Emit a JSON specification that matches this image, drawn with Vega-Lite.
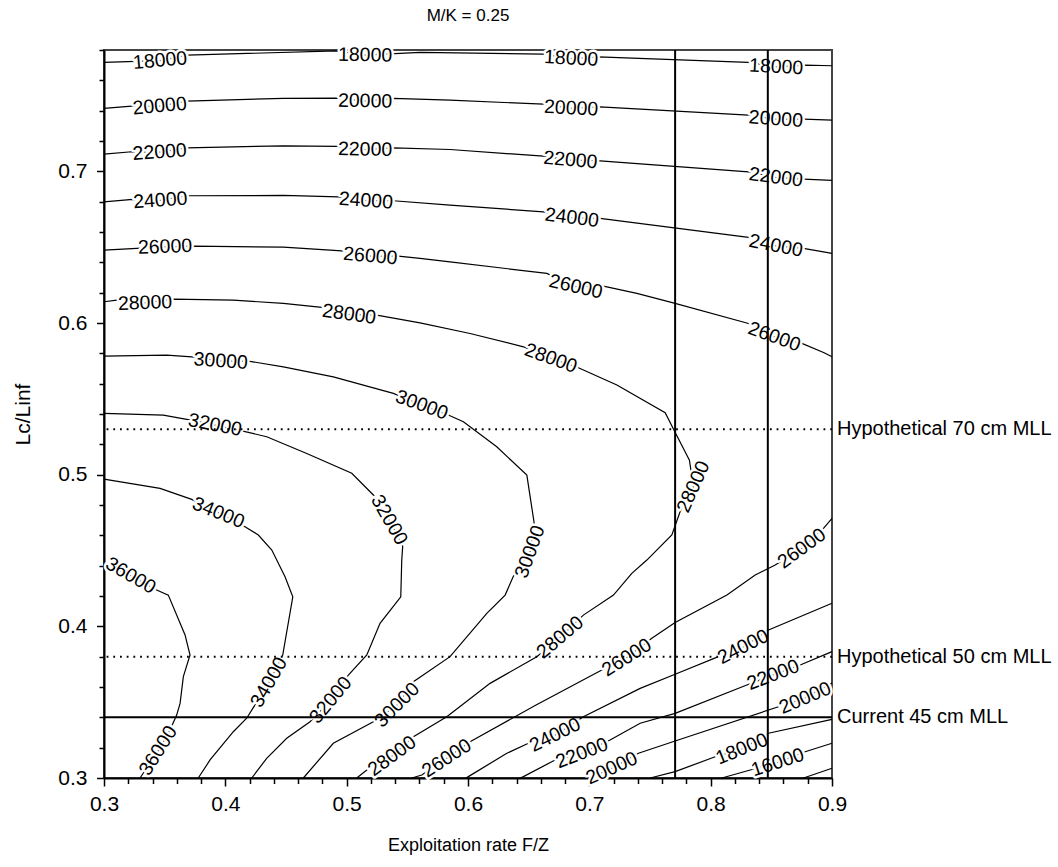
{
  "$schema": "https://vega.github.io/schema/vega-lite/v6.json",
  "width": 728,
  "height": 728,
  "autosize": {"type": "none"},
  "padding": {"left": 104, "top": 50, "right": 226, "bottom": 89},
  "title": {"text": "M/K = 0.25", "fontSize": 17, "font": "Liberation Sans", "fontWeight": "normal", "color": "black", "offset": 20},
  "config": {
    "view": {"stroke": "#444", "strokeWidth": 2},
    "font": "Liberation Sans",
    "axis": {"grid": false, "labelFont": "Liberation Sans", "titleFont": "Liberation Sans", "labelFontSize": 21, "titleFontSize": 18, "titleFontWeight": "normal", "labelColor": "black", "titleColor": "black", "tickColor": "black", "domainColor": "black", "domainWidth": 2, "tickWidth": 1.5, "labelFlush": false}
  },
  "resolve": {"axis": {"x": "independent", "y": "independent"}},
  "datasets": {
    "contours": [
      {"c":"18a","x":0.3,"y":0.7718},{"c":"18a","x":0.3462,"y":0.773},{"c":"18a","x":0.3684,"y":0.7766},{"c":"18a","x":0.492,"y":0.7794},{"c":"18a","x":0.5152,"y":0.7766},{"c":"18a","x":0.5605,"y":0.7784},{"c":"18a","x":0.662,"y":0.7773},{"c":"18a","x":0.685,"y":0.7744},{"c":"18a","x":0.7073,"y":0.7755},{"c":"18a","x":0.8309,"y":0.7718},{"c":"18a","x":0.854,"y":0.7689},{"c":"18a","x":0.8779,"y":0.77},{"c":"18a","x":0.9,"y":0.7696},
      {"c":"20a","x":0.3,"y":0.7415},{"c":"20a","x":0.3228,"y":0.743},{"c":"20a","x":0.3459,"y":0.743},{"c":"20a","x":0.3682,"y":0.7463},{"c":"20a","x":0.4476,"y":0.7481},{"c":"20a","x":0.4918,"y":0.7483},{"c":"20a","x":0.5152,"y":0.7463},{"c":"20a","x":0.5385,"y":0.7481},{"c":"20a","x":0.5852,"y":0.7469},{"c":"20a","x":0.6622,"y":0.7443},{"c":"20a","x":0.685,"y":0.7416},{"c":"20a","x":0.7089,"y":0.7425},{"c":"20a","x":0.8312,"y":0.7371},{"c":"20a","x":0.8537,"y":0.7344},{"c":"20a","x":0.8765,"y":0.7344},{"c":"20a","x":0.9,"y":0.7337},
      {"c":"22a","x":0.3,"y":0.7113},{"c":"22a","x":0.3228,"y":0.7129},{"c":"22a","x":0.3459,"y":0.7127},{"c":"22a","x":0.3682,"y":0.7155},{"c":"22a","x":0.4479,"y":0.7168},{"c":"22a","x":0.4923,"y":0.7164},{"c":"22a","x":0.5152,"y":0.7144},{"c":"22a","x":0.5385,"y":0.7155},{"c":"22a","x":0.5852,"y":0.7144},{"c":"22a","x":0.6622,"y":0.71},{"c":"22a","x":0.6844,"y":0.7074},{"c":"22a","x":0.7089,"y":0.7069},{"c":"22a","x":0.8312,"y":0.6997},{"c":"22a","x":0.8537,"y":0.696},{"c":"22a","x":0.8765,"y":0.6949},{"c":"22a","x":0.9,"y":0.694},
      {"c":"24a","x":0.3,"y":0.6799},{"c":"24a","x":0.3236,"y":0.6815},{"c":"24a","x":0.3464,"y":0.6808},{"c":"24a","x":0.3687,"y":0.6839},{"c":"24a","x":0.4479,"y":0.6841},{"c":"24a","x":0.4932,"y":0.6832},{"c":"24a","x":0.5158,"y":0.6806},{"c":"24a","x":0.5385,"y":0.6806},{"c":"24a","x":0.5852,"y":0.6777},{"c":"24a","x":0.6622,"y":0.6733},{"c":"24a","x":0.6856,"y":0.6694},{"c":"24a","x":0.7089,"y":0.669},{"c":"24a","x":0.8312,"y":0.6564},{"c":"24a","x":0.8537,"y":0.6509},{"c":"24a","x":0.8765,"y":0.6492},{"c":"24a","x":0.9,"y":0.6459},
      {"c":"26a","x":0.3,"y":0.6481},{"c":"26a","x":0.327,"y":0.6492},{"c":"26a","x":0.3503,"y":0.6502},{"c":"26a","x":0.3736,"y":0.6507},{"c":"26a","x":0.4478,"y":0.65},{"c":"26a","x":0.496,"y":0.6476},{"c":"26a","x":0.5195,"y":0.6441},{"c":"26a","x":0.5426,"y":0.6441},{"c":"26a","x":0.5605,"y":0.6426},{"c":"26a","x":0.5852,"y":0.6403},{"c":"26a","x":0.665,"y":0.6327},{"c":"26a","x":0.6889,"y":0.6239},{"c":"26a","x":0.7116,"y":0.6243},{"c":"26a","x":0.7392,"y":0.6195},{"c":"26a","x":0.7707,"y":0.6129},{"c":"26a","x":0.8312,"y":0.5997},{"c":"26a","x":0.8524,"y":0.5909},{"c":"26a","x":0.8752,"y":0.5866},{"c":"26a","x":0.8935,"y":0.5804},{"c":"26a","x":0.9,"y":0.5777},
      {"c":"28","x":0.3,"y":0.614},{"c":"28","x":0.3105,"y":0.6151},{"c":"28","x":0.3338,"y":0.6132},{"c":"28","x":0.3571,"y":0.6158},{"c":"28","x":0.4066,"y":0.6151},{"c":"28","x":0.4478,"y":0.6129},{"c":"28","x":0.4795,"y":0.6103},{"c":"28","x":0.502,"y":0.6057},{"c":"28","x":0.5248,"y":0.6052},{"c":"28","x":0.5605,"y":0.6001},{"c":"28","x":0.6017,"y":0.5931},{"c":"28","x":0.6457,"y":0.5843},{"c":"28","x":0.6683,"y":0.5767},{"c":"28","x":0.691,"y":0.5705},{"c":"28","x":0.7227,"y":0.5591},{"c":"28","x":0.7625,"y":0.5408},{"c":"28","x":0.7693,"y":0.5301},{"c":"28","x":0.7825,"y":0.5096},{"c":"28","x":0.7858,"y":0.492},{"c":"28","x":0.7748,"y":0.4755},{"c":"28","x":0.768,"y":0.4602},{"c":"28","x":0.7474,"y":0.4437},{"c":"28","x":0.735,"y":0.4349},{"c":"28","x":0.7199,"y":0.4206},{"c":"28","x":0.6951,"y":0.4074},{"c":"28","x":0.6759,"y":0.3927},{"c":"28","x":0.6567,"y":0.38},{"c":"28","x":0.6182,"y":0.3624},{"c":"28","x":0.5825,"y":0.3404},{"c":"28","x":0.555,"y":0.3272},{"c":"28","x":0.5374,"y":0.3145},{"c":"28","x":0.5166,"y":0.3053},{"c":"28","x":0.5083,"y":0.3},
      {"c":"30","x":0.3,"y":0.5782},{"c":"30","x":0.3517,"y":0.5788},{"c":"30","x":0.3723,"y":0.5777},{"c":"30","x":0.3962,"y":0.5749},{"c":"30","x":0.419,"y":0.5749},{"c":"30","x":0.4478,"y":0.5711},{"c":"30","x":0.489,"y":0.5645},{"c":"30","x":0.5385,"y":0.5536},{"c":"30","x":0.5619,"y":0.5459},{"c":"30","x":0.5838,"y":0.5393},{"c":"30","x":0.5962,"y":0.5349},{"c":"30","x":0.6237,"y":0.5184},{"c":"30","x":0.6485,"y":0.4997},{"c":"30","x":0.6545,"y":0.4683},{"c":"30","x":0.6512,"y":0.4492},{"c":"30","x":0.6372,"y":0.4327},{"c":"30","x":0.6306,"y":0.4206},{"c":"30","x":0.6155,"y":0.4086},{"c":"30","x":0.5852,"y":0.38},{"c":"30","x":0.555,"y":0.3635},{"c":"30","x":0.5416,"y":0.3481},{"c":"30","x":0.522,"y":0.3371},{"c":"30","x":0.489,"y":0.3229},{"c":"30","x":0.4643,"y":0.3},
      {"c":"32","x":0.3,"y":0.5404},{"c":"32","x":0.3489,"y":0.5393},{"c":"32","x":0.3682,"y":0.5365},{"c":"32","x":0.3915,"y":0.5327},{"c":"32","x":0.4135,"y":0.5289},{"c":"32","x":0.4341,"y":0.525},{"c":"32","x":0.4671,"y":0.514},{"c":"32","x":0.5042,"y":0.5009},{"c":"32","x":0.522,"y":0.4866},{"c":"32","x":0.535,"y":0.4701},{"c":"32","x":0.5462,"y":0.4529},{"c":"32","x":0.5454,"y":0.4437},{"c":"32","x":0.5446,"y":0.4195},{"c":"32","x":0.5275,"y":0.402},{"c":"32","x":0.5166,"y":0.3811},{"c":"32","x":0.5014,"y":0.3679},{"c":"32","x":0.4869,"y":0.3514},{"c":"32","x":0.4698,"y":0.3371},{"c":"32","x":0.4506,"y":0.3262},{"c":"32","x":0.4341,"y":0.313},{"c":"32","x":0.4218,"y":0.3},
      {"c":"34","x":0.3,"y":0.4971},{"c":"34","x":0.3462,"y":0.491},{"c":"34","x":0.3723,"y":0.4837},{"c":"34","x":0.3942,"y":0.4749},{"c":"34","x":0.4162,"y":0.4657},{"c":"34","x":0.4272,"y":0.4602},{"c":"34","x":0.4383,"y":0.4503},{"c":"34","x":0.4492,"y":0.4327},{"c":"34","x":0.4556,"y":0.4195},{"c":"34","x":0.4473,"y":0.3811},{"c":"34","x":0.436,"y":0.3631},{"c":"34","x":0.4176,"y":0.3394},{"c":"34","x":0.4066,"y":0.3305},{"c":"34","x":0.3874,"y":0.3119},{"c":"34","x":0.3777,"y":0.3},
      {"c":"36","x":0.3,"y":0.4404},{"c":"36","x":0.322,"y":0.4334},{"c":"36","x":0.3434,"y":0.4239},{"c":"36","x":0.353,"y":0.4206},{"c":"36","x":0.3668,"y":0.3943},{"c":"36","x":0.3709,"y":0.3811},{"c":"36","x":0.3654,"y":0.3668},{"c":"36","x":0.3627,"y":0.3492},{"c":"36","x":0.3599,"y":0.3415},{"c":"36","x":0.3544,"y":0.3316},{"c":"36","x":0.3448,"y":0.318},{"c":"36","x":0.3297,"y":0.3},
      {"c":"26b","x":0.9,"y":0.4712},{"c":"26b","x":0.893,"y":0.4646},{"c":"26b","x":0.8752,"y":0.4514},{"c":"26b","x":0.8532,"y":0.4404},{"c":"26b","x":0.8367,"y":0.4338},{"c":"26b","x":0.8134,"y":0.4206},{"c":"26b","x":0.7707,"y":0.4026},{"c":"26b","x":0.7515,"y":0.3921},{"c":"26b","x":0.7309,"y":0.3794},{"c":"26b","x":0.7103,"y":0.3712},{"c":"26b","x":0.6561,"y":0.3481},{"c":"26b","x":0.6017,"y":0.3239},{"c":"26b","x":0.5825,"y":0.313},{"c":"26b","x":0.5619,"y":0.302},{"c":"26b","x":0.5537,"y":0.3},
      {"c":"24b","x":0.9,"y":0.4152},{"c":"24b","x":0.8477,"y":0.3976},{"c":"24b","x":0.8268,"y":0.3864},{"c":"24b","x":0.8064,"y":0.38},{"c":"24b","x":0.7707,"y":0.3684},{"c":"24b","x":0.7419,"y":0.3591},{"c":"24b","x":0.6951,"y":0.3404},{"c":"24b","x":0.6718,"y":0.3283},{"c":"24b","x":0.6498,"y":0.3229},{"c":"24b","x":0.632,"y":0.3163},{"c":"24b","x":0.6003,"y":0.3009},{"c":"24b","x":0.5984,"y":0.3},
      {"c":"22b","x":0.9,"y":0.3833},{"c":"22b","x":0.8738,"y":0.3745},{"c":"22b","x":0.8515,"y":0.3679},{"c":"22b","x":0.8298,"y":0.3613},{"c":"22b","x":0.7707,"y":0.3426},{"c":"22b","x":0.7419,"y":0.3361},{"c":"22b","x":0.7171,"y":0.325},{"c":"22b","x":0.6938,"y":0.3163},{"c":"22b","x":0.6718,"y":0.3119},{"c":"22b","x":0.6457,"y":0.3009},{"c":"22b","x":0.643,"y":0.3},
      {"c":"20b","x":0.9,"y":0.3626},{"c":"20b","x":0.8779,"y":0.3527},{"c":"20b","x":0.8559,"y":0.347},{"c":"20b","x":0.7707,"y":0.3244},{"c":"20b","x":0.7405,"y":0.3163},{"c":"20b","x":0.7185,"y":0.3064},{"c":"20b","x":0.7007,"y":0.3},
      {"c":"18b","x":0.9,"y":0.3387},{"c":"18b","x":0.8477,"y":0.3295},{"c":"18b","x":0.8257,"y":0.3191},{"c":"18b","x":0.8037,"y":0.314},{"c":"18b","x":0.7707,"y":0.3042},{"c":"18b","x":0.7501,"y":0.3},
      {"c":"16","x":0.9,"y":0.3229},{"c":"16","x":0.8779,"y":0.3173},{"c":"16","x":0.8552,"y":0.3102},{"c":"16","x":0.8326,"y":0.3053},{"c":"16","x":0.8092,"y":0.3},
      {"c":"14","x":0.9,"y":0.3064},{"c":"14","x":0.8765,"y":0.3}
    ],
    "labels": [
      {"t":"18000","x":0.3462,"y":0.773,"a":-5},{"t":"18000","x":0.5152,"y":0.7766,"a":1},{"t":"18000","x":0.685,"y":0.7744,"a":3},{"t":"18000","x":0.854,"y":0.7689,"a":3},
      {"t":"20000","x":0.3459,"y":0.743,"a":-5},{"t":"20000","x":0.5152,"y":0.7463,"a":1},{"t":"20000","x":0.685,"y":0.7416,"a":3},{"t":"20000","x":0.8537,"y":0.7344,"a":4},
      {"t":"22000","x":0.3459,"y":0.7127,"a":-4},{"t":"22000","x":0.5152,"y":0.7144,"a":1},{"t":"22000","x":0.6844,"y":0.7074,"a":5},{"t":"22000","x":0.8537,"y":0.696,"a":7},
      {"t":"24000","x":0.3464,"y":0.6808,"a":-4},{"t":"24000","x":0.5158,"y":0.6806,"a":4},{"t":"24000","x":0.6856,"y":0.6694,"a":7},{"t":"24000","x":0.8537,"y":0.6509,"a":11},
      {"t":"26000","x":0.3503,"y":0.6502,"a":-2},{"t":"26000","x":0.5195,"y":0.6441,"a":5},{"t":"26000","x":0.6889,"y":0.6239,"a":13},{"t":"26000","x":0.8524,"y":0.5909,"a":20},
      {"t":"28000","x":0.3338,"y":0.6132,"a":-2},{"t":"28000","x":0.502,"y":0.6057,"a":8},{"t":"28000","x":0.6683,"y":0.5767,"a":20},{"t":"28000","x":0.7858,"y":0.492,"a":-66},{"t":"28000","x":0.6759,"y":0.3927,"a":-40},{"t":"28000","x":0.5374,"y":0.3145,"a":-36},
      {"t":"30000","x":0.3962,"y":0.5749,"a":4},{"t":"30000","x":0.5619,"y":0.5459,"a":20},{"t":"30000","x":0.6512,"y":0.4492,"a":-70},{"t":"30000","x":0.5416,"y":0.3481,"a":-45},
      {"t":"32000","x":0.3915,"y":0.5327,"a":11},{"t":"32000","x":0.535,"y":0.4701,"a":60},{"t":"32000","x":0.4869,"y":0.3514,"a":-50},
      {"t":"34000","x":0.3942,"y":0.4749,"a":22},{"t":"34000","x":0.436,"y":0.3631,"a":-60},
      {"t":"36000","x":0.322,"y":0.4334,"a":30},{"t":"36000","x":0.3448,"y":0.318,"a":-58},
      {"t":"26000","x":0.8752,"y":0.4514,"a":-36},{"t":"26000","x":0.7309,"y":0.3794,"a":-32},{"t":"26000","x":0.5825,"y":0.313,"a":-33},
      {"t":"24000","x":0.8268,"y":0.3864,"a":-27},{"t":"24000","x":0.6718,"y":0.3283,"a":-26},
      {"t":"22000","x":0.8515,"y":0.3679,"a":-21},{"t":"22000","x":0.6938,"y":0.3163,"a":-21},
      {"t":"20000","x":0.8779,"y":0.3527,"a":-23},{"t":"20000","x":0.7185,"y":0.3064,"a":-24},
      {"t":"18000","x":0.8257,"y":0.3191,"a":-22},
      {"t":"16000","x":0.8552,"y":0.3102,"a":-18}
    ],
    "vlines": [{"x":0.7707},{"x":0.8471}],
    "hlines": [
      {"y":0.53,"s":"dotted","label":"Hypothetical 70 cm MLL"},
      {"y":0.38,"s":"dotted","label":"Hypothetical 50 cm MLL"},
      {"y":0.34,"s":"solid","label":"Current 45 cm MLL"}
    ]
  },
  "layer": [
    {
      "data": {"name": "contours"},
      "transform": [{"window": [{"op": "row_number", "as": "o"}]}],
      "mark": {"type": "line", "color": "black", "strokeWidth": 1.2},
      "encoding": {
        "x": {"field": "x", "type": "quantitative",
          "scale": {"domain": [0.3, 0.9], "nice": false, "zero": false},
          "axis": {"orient": "bottom", "title": null, "labels": false, "tickSize": 5.5,
            "values": [0.32,0.34,0.36,0.38,0.42,0.44,0.46,0.48,0.52,0.54,0.56,0.58,0.62,0.64,0.66,0.68,0.72,0.74,0.76,0.78,0.82,0.84,0.86,0.88]}},
        "y": {"field": "y", "type": "quantitative",
          "scale": {"domain": [0.3, 0.78], "nice": false, "zero": false},
          "axis": {"orient": "left", "title": null, "labels": false, "tickSize": 5,
            "values": [0.32,0.34,0.36,0.38,0.42,0.44,0.46,0.48,0.52,0.54,0.56,0.58,0.62,0.64,0.66,0.68,0.72,0.74,0.76,0.78]}},
        "detail": {"field": "c"},
        "order": {"field": "o", "type": "quantitative"}
      }
    },
    {
      "data": {"name": "labels"},
      "mark": {"type": "text", "font": "Liberation Sans", "fontSize": 19.5, "align": "center", "baseline": "middle", "fill": "white", "stroke": "white", "strokeWidth": 5, "strokeJoin": "round"},
      "encoding": {
        "x": {"field": "x", "type": "quantitative",
          "axis": {"orient": "bottom", "title": "Exploitation rate F/Z", "domain": false, "tickSize": 8, "format": ".1f",
            "values": [0.3,0.4,0.5,0.6,0.7,0.8,0.9], "labelPadding": 7.5, "titlePadding": 22}},
        "y": {"field": "y", "type": "quantitative",
          "axis": {"orient": "left", "title": "Lc/Linf", "titleFontSize": 21, "domain": false, "tickSize": 7.5, "format": ".1f",
            "values": [0.3,0.4,0.5,0.6,0.7], "labelPadding": 9.5, "titlePadding": 24}},
        "text": {"field": "t"},
        "angle": {"field": "a", "type": "quantitative", "scale": null}
      }
    },
    {
      "data": {"name": "labels"},
      "mark": {"type": "text", "font": "Liberation Sans", "fontSize": 19.5, "align": "center", "baseline": "middle", "color": "black"},
      "encoding": {
        "x": {"field": "x", "type": "quantitative", "axis": null},
        "y": {"field": "y", "type": "quantitative", "axis": null},
        "text": {"field": "t"},
        "angle": {"field": "a", "type": "quantitative", "scale": null}
      }
    },
    {
      "data": {"name": "vlines"},
      "mark": {"type": "rule", "color": "black", "strokeWidth": 2},
      "encoding": {"x": {"field": "x", "type": "quantitative", "axis": null}}
    },
    {
      "data": {"name": "hlines"},
      "mark": {"type": "rule", "color": "black", "strokeWidth": 2},
      "encoding": {
        "y": {"field": "y", "type": "quantitative", "axis": null},
        "strokeDash": {"field": "s", "type": "nominal", "scale": {"domain": ["solid", "dotted"], "range": [[1, 0], [1.8, 4.9]]}, "legend": null}
      }
    },
    {
      "data": {"name": "hlines"},
      "mark": {"type": "text", "font": "Liberation Sans", "fontSize": 20, "align": "left", "baseline": "middle", "dx": 5, "color": "black"},
      "encoding": {
        "x": {"datum": 0.9, "type": "quantitative", "axis": null},
        "y": {"field": "y", "type": "quantitative", "axis": null},
        "text": {"field": "label"}
      }
    }
  ]
}
